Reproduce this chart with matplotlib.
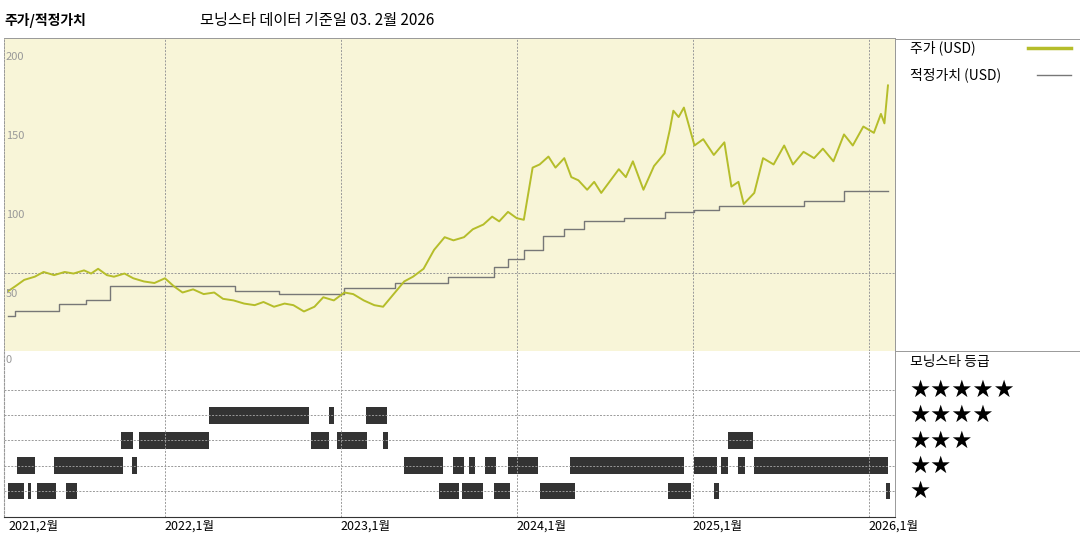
import numpy as np
import matplotlib
matplotlib.use('Agg')
from matplotlib import pyplot as plt

plt.rcParams['font.family'] = ['Noto Sans CJK KR', 'DejaVu Sans']

# price (USD)
px_t = [2021.11, 2021.15, 2021.20, 2021.26, 2021.31, 2021.37, 2021.43, 2021.48, 2021.54, 2021.58, 2021.62,
        2021.67, 2021.71, 2021.77, 2021.82, 2021.88, 2021.94, 2022.00, 2022.05, 2022.10, 2022.16, 2022.22,
        2022.28, 2022.33, 2022.39, 2022.45, 2022.51, 2022.56, 2022.62, 2022.68, 2022.73, 2022.79, 2022.85,
        2022.90, 2022.96, 2023.02, 2023.07, 2023.13, 2023.19, 2023.24, 2023.30, 2023.36, 2023.41, 2023.47,
        2023.53, 2023.59, 2023.64, 2023.70, 2023.75, 2023.81, 2023.86, 2023.90, 2023.95, 2024.00, 2024.04,
        2024.09, 2024.13, 2024.18, 2024.22, 2024.27, 2024.31, 2024.35, 2024.40, 2024.44, 2024.48, 2024.52,
        2024.58, 2024.62, 2024.66, 2024.72, 2024.78, 2024.84, 2024.87, 2024.89, 2024.92, 2024.95, 2025.01,
        2025.06, 2025.12, 2025.18, 2025.22, 2025.26, 2025.29, 2025.35, 2025.40, 2025.46, 2025.52, 2025.57,
        2025.63, 2025.69, 2025.74, 2025.80, 2025.86, 2025.91, 2025.97, 2026.03, 2026.07, 2026.09, 2026.11]
px_v = [46, 49, 53, 55, 58, 56, 58, 57, 59, 57, 60,
        56, 55, 57, 54, 52, 51, 54, 49, 45, 47, 44,
        45, 41, 40, 38, 37, 39, 36, 38, 37, 33, 36,
        42, 40, 45, 44, 40, 37, 36, 44, 52, 55, 60,
        72, 80, 78, 80, 85, 88, 93, 90, 96, 92, 91,
        124, 126, 131, 124, 130, 118, 116, 110, 115, 108, 114,
        123, 118, 128, 110, 125, 133, 148, 160, 156, 162, 138,
        142, 132, 140, 112, 115, 101, 108, 130, 126, 138, 126,
        134, 130, 136, 128, 145, 138, 150, 146, 158, 152, 176]

# fair value (USD), step series
fv_t = [2021.11, 2021.15, 2021.40, 2021.55, 2021.69, 2022.40, 2022.65, 2023.02, 2023.31, 2023.61, 2023.87,
        2023.95, 2024.04, 2024.15, 2024.27, 2024.38, 2024.61, 2024.84, 2025.01, 2025.15, 2025.63, 2025.86, 2026.11]
fv_v = [30, 33, 38, 40, 49, 46, 44, 48, 51, 55, 61,
        66, 72, 81, 85, 90, 92, 96, 97, 100, 103, 109, 109]

# morningstar rating periods: (start year, length in years)
rating_spans = {
    1: [(2021.11, 0.09), (2021.22, 0.02), (2021.27, 0.11), (2021.44, 0.06), (2023.56, 0.11), (2023.69, 0.12),
        (2023.87, 0.09), (2024.13, 0.20), (2024.86, 0.13), (2025.12, 0.03), (2026.10, 0.02)],
    2: [(2021.16, 0.10), (2021.37, 0.39), (2021.81, 0.03), (2023.36, 0.22), (2023.64, 0.06), (2023.73, 0.03),
        (2023.82, 0.06), (2023.95, 0.17), (2024.30, 0.65), (2025.01, 0.13), (2025.16, 0.04), (2025.26, 0.04),
        (2025.35, 0.76)],
    3: [(2021.75, 0.07), (2021.85, 0.40), (2022.83, 0.10), (2022.98, 0.17), (2023.24, 0.03), (2025.20, 0.14)],
    4: [(2022.25, 0.57), (2022.93, 0.03), (2023.14, 0.12)],
    5: [],
}

x_ticks = [2021.11, 2022.0, 2023.0, 2024.0, 2025.0, 2026.0]
x_labels = ['2021,2월', '2022,1월', '2023,1월', '2024,1월', '2025,1월', '2026,1월']
y_ticks = [50, 100, 150, 200]

xmin, xmax = 2021.085, 2026.15
grid_kw = dict(color='#999999', lw=0.7, ls=(0, (2, 1.5)))

fig = plt.figure(figsize=(10.8, 5.4), dpi=100)
ax = fig.add_axes([4/1080, 189/540, 891/1080, 313/540])
ax2 = fig.add_axes([4/1080, 23/540, 891/1080, 166/540])
axl = fig.add_axes([895/1080, 23/540, 185/1080, 479/540])

ax.set_facecolor('#f8f5d8')
ax.set_xlim(xmin, xmax)
ax.set_ylim(8, 206)
for t in x_ticks[1:]:
    ax.axvline(t, **grid_kw)
    ax2.axvline(t, **grid_kw)
ax.axhline(57.5, **grid_kw)
for v in y_ticks:
    ax.text(xmin + 0.01, v - 3, str(v), fontsize=8, color='#999999', va='top', ha='left')
ax.step(fv_t, fv_v, where='post', color='#777777', lw=1.0)
ax.plot(px_t, px_v, color='#b5bd2a', lw=1.4)
ax.set_xticks([])
ax.set_yticks([])
for s in ax.spines.values():
    s.set_color('#999999')
    s.set_linewidth(0.7)
    s.set_linestyle((0, (2, 1.5)))
ax.spines['top'].set_linestyle('-')

ax2.set_xlim(xmin, xmax)
ax2.set_ylim(-0.03, 6.54)
for k in range(1, 6):
    ax2.axhline(k, **grid_kw)
    if rating_spans[k]:
        ax2.broken_barh(rating_spans[k], (k - 0.33, 0.66), facecolors='#333333')
ax2.text(xmin + 0.01, 6.4, '0', fontsize=8, color='#999999', va='top', ha='left')
ax2.set_yticks([])
ax2.set_xticks(x_ticks)
ax2.set_xticklabels(x_labels, fontsize=9)
for lab in ax2.get_xticklabels():
    lab.set_horizontalalignment('left')
ax2.tick_params(axis='x', length=0, pad=2)
for s in ('top', 'right'):
    ax2.spines[s].set_visible(False)
ax2.spines['left'].set_color('#999999')
ax2.spines['left'].set_linestyle((0, (2, 1.5)))
ax2.spines['bottom'].set_color('#333333')

# legend / rating panel
axl.set_xlim(0, 1)
axl.set_ylim(517, 38)
axl.axis('off')
axl.plot([0, 1], [38.5, 38.5], color='#999999', lw=0.7)
axl.plot([0, 1], [351, 351], color='#999999', lw=0.7)
axl.plot([0, 0], [38, 517], color='#999999', lw=0.7)
axl.plot([0, 1], [517, 517], color='#999999', lw=0.7)
axl.text(0.08, 48, '주가 (USD)', fontsize=10, va='center')
axl.plot([0.72, 0.95], [48, 48], color='#b5bd2a', lw=2.5)
axl.text(0.08, 75, '적정가치 (USD)', fontsize=10, va='center')
axl.plot([0.77, 0.95], [75, 75], color='#777777', lw=1.0)
axl.text(0.08, 362, '모닝스타 등급', fontsize=10, va='center')
for k, y in zip(range(5, 0, -1), [390, 415, 441, 466, 491]):
    axl.text(0.08, y, '★' * k, fontsize=17, va='center', family=['DejaVu Sans'])

fig.text(4/1080, 1 - 20/540, '주가/적정가치', fontsize=10, fontweight='bold', va='center')
fig.text(200/1080, 1 - 20/540, '모닝스타 데이터 기준일 03. 2월 2026', fontsize=11, va='center')

fig.savefig('out.png', dpi=100)
